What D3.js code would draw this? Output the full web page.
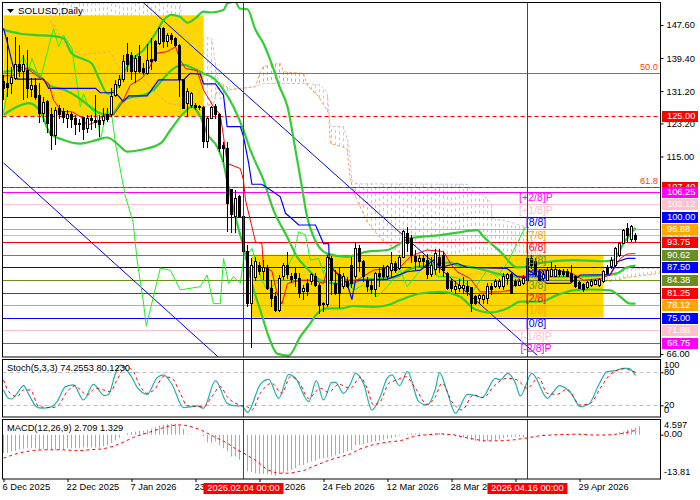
<!DOCTYPE html>
<html lang="en">
<head>
<meta charset="UTF-8">
<title>SOLUSD,Daily</title>
<script src="https://d3js.org/d3.v7.min.js"></script>
<style>
body { margin: 0; background: #fff; }
text { font-family: "Liberation Sans", Arial, sans-serif; font-size: 9.3px; fill: #000; }
.axis path { display: none; }
.axis line { stroke: #000; }
</style>
</head>
<body>
<svg width="700" height="500"></svg>
<script>
// candles, one per day, 6 Dec 2025 onward
var opens = [133.5,133.1,133.0,134.4,137.7,136.0,136.4,131.7,132.7,130.0,125.7,128.6,125.3,120.3,126.9,126.1,124.4,125.3,124.4,123.2,124.7,122.0,124.4,123.9,123.9,123.9,125.3,125.3,130.2,132.7,134.0,140.2,140.0,136.0,139.7,136.8,135.6,139.0,143.5,143.0,146.8,143.5,145.1,144.3,142.6,134.0,128.2,127.7,127.7,127.5,127.2,118.7,124.4,127.3,125.3,117.6,117.0,106.7,100.0,105.0,100.0,91.4,78.5,85.0,88.0,86.4,87.2,82.3,80.2,76.9,85.2,88.0,85.2,86.0,84.7,81.4,83.5,83.9,85.2,83.1,78.6,78.4,89.7,83.5,85.6,82.7,83.9,88.0,85.2,92.2,88.9,84.3,83.1,81.9,86.0,87.2,85.2,86.8,88.5,87.2,89.9,95.9,94.7,90.3,88.9,89.7,89.3,85.6,87.0,90.0,90.5,86.0,83.9,82.0,82.3,82.2,82.7,82.5,80.2,79.8,79.5,79.8,82.8,82.8,82.7,82.8,84.7,85.6,83.9,83.1,83.5,84.3,89.7,88.9,86.4,84.7,84.3,85.2,85.3,86.6,86.4,86.4,85.9,85.2,83.7,83.3,82.5,83.1,83.3,83.1,84.0,87.5,87.6,88.0,90.5,93.4,97.1,94.3,95.5];
var highs = [135.2,144.7,137.3,144.7,142.6,140.2,141.4,134.4,134.4,133.1,129.8,129.0,126.9,127.3,127.7,126.9,126.5,126.1,125.3,124.4,124.9,125.3,125.3,130.2,125.3,126.9,126.9,131.9,134.0,135.2,140.2,143.2,141.0,140.2,142.6,138.1,143.0,144.3,144.0,147.2,147.2,145.5,145.5,144.7,143.0,134.2,131.9,131.1,128.2,127.7,127.5,124.9,127.5,128.0,125.7,118.7,118.7,107.0,106.7,105.4,100.5,93.0,89.7,90.0,88.9,89.3,88.0,84.3,81.4,85.6,88.5,91.4,86.0,87.5,86.0,83.1,84.5,86.0,86.0,83.7,79.0,90.5,90.3,86.8,87.6,86.0,85.0,90.1,93.8,93.0,89.3,85.2,84.3,86.4,87.6,88.0,88.0,91.4,89.0,90.5,96.7,97.5,95.5,91.8,90.5,90.5,90.9,90.0,92.0,92.0,91.4,86.4,84.5,84.0,84.5,85.0,84.0,82.7,80.6,81.0,81.0,83.5,83.5,84.7,84.7,86.0,86.0,86.0,84.5,84.7,85.5,90.5,90.5,89.7,87.0,86.5,87.5,88.9,88.0,87.2,87.0,87.0,88.0,85.6,84.0,83.5,84.0,84.5,84.7,84.8,86.8,88.0,90.0,92.6,93.8,97.1,98.4,97.9,95.9];
var lows = [129.0,129.8,130.6,134.0,134.8,129.0,129.4,129.8,129.0,123.2,123.6,120.7,116.6,117.8,124.4,123.2,122.0,122.0,120.3,121.1,119.2,120.7,121.5,122.0,119.9,122.8,123.6,124.9,129.8,131.9,133.5,136.0,134.0,133.1,135.6,135.2,135.2,136.4,138.5,142.6,141.8,142.2,143.0,142.2,129.8,126.9,124.7,126.9,126.5,126.5,117.0,117.0,124.2,124.4,116.2,113.7,96.3,96.0,95.9,100.0,91.0,77.7,67.4,84.0,85.6,84.3,81.9,77.7,76.5,76.5,84.3,84.7,83.5,82.7,80.0,79.4,80.5,83.1,82.7,75.9,76.5,77.7,80.6,80.6,77.3,82.0,82.3,82.3,84.7,86.4,83.9,81.4,81.0,80.2,82.7,84.5,84.5,85.2,86.0,86.8,89.7,91.4,88.5,86.8,87.6,87.5,84.7,85.2,85.5,86.0,85.0,81.9,81.5,81.0,81.5,81.0,80.5,76.5,78.1,78.5,78.5,78.4,80.6,82.3,82.0,81.9,83.0,81.0,82.5,82.8,83.0,84.3,87.0,85.2,84.0,84.3,84.0,85.0,85.0,85.2,85.2,85.0,83.5,82.3,82.0,81.5,82.0,82.7,83.0,82.7,83.7,85.5,87.0,87.6,90.0,93.4,93.8,93.8,93.8];
var closes = [131.9,132.1,134.6,137.7,136.0,137.7,131.9,132.7,129.6,125.7,128.4,123.2,120.3,126.5,125.3,124.7,125.3,124.2,123.0,122.8,121.7,124.4,123.9,123.4,123.0,124.9,124.2,129.8,132.9,134.1,138.5,137.7,136.0,139.3,136.0,135.8,138.7,138.5,138.9,146.8,143.5,145.1,143.9,142.6,134.0,126.9,131.1,130.6,127.2,127.2,118.7,124.4,127.2,125.3,117.0,117.0,103.4,100.5,104.6,100.0,91.4,78.5,88.0,89.0,86.4,87.5,82.3,79.8,76.9,84.7,88.0,85.6,84.6,84.7,81.0,82.3,81.4,85.6,83.1,78.1,78.4,89.9,84.3,81.0,81.0,85.2,82.7,83.5,92.2,88.9,85.2,82.7,81.9,86.0,85.2,85.2,87.6,88.5,86.8,89.9,96.3,93.4,90.5,88.9,89.7,88.9,85.6,88.0,91.0,88.0,86.8,82.3,82.3,82.8,83.0,83.1,81.4,78.5,78.5,80.6,80.6,82.8,81.9,83.9,83.9,85.2,85.6,81.0,83.1,83.9,84.7,89.7,88.0,85.6,84.3,85.6,86.8,87.0,87.0,85.6,85.6,85.3,83.9,82.7,82.3,82.0,83.7,84.1,84.3,84.5,86.4,86.0,89.3,92.2,93.4,96.7,95.5,97.5,94.4];

// indicator readings as [bar, value]
var bbUpper = [[0,146.4],[4,145.5],[8,145.1],[12,144.9],[15,144.3],[17,140.6],[20,139.1],[22,138.1],[24,134],[26,130.6],[28,131.5],[30,135.6],[32,138.9],[35,141.4],[38,145.5],[40,148.8],[42,150.1],[44,149.7],[46,148.2],[48,149.3],[50,150.9],[52,150.7],[55,151.3],[56,153],[58,153.4],[59,151.7],[61,151.5],[63,146.4],[65,143],[67,138.1],[69,132.3],[71,127.3],[73,116.6],[74.6,107.5],[75.9,100],[77.5,95.1],[80.9,90.9],[85.9,90.1],[90.9,91.4],[95.9,91.8],[101.7,94.7],[109.2,95.5],[113.4,96.1],[118.4,96.7],[120,95.1],[124.2,91.4],[128.4,87.5],[130.9,87.6],[134.2,88.6],[142.5,89.3],[150,89],[152.5,89.3],[155,93.4],[158,97.3]];
var bbMiddle = [[0,136],[3.4,136.4],[6.3,136.8],[9.2,134.8],[11.7,132.5],[15,131.6],[18.4,129.8],[21.7,127.3],[24.2,125.7],[26.7,125.3],[30,129],[32.5,129.8],[35,130.2],[37.5,131.5],[40,134.4],[42.5,136.8],[45,137.7],[47.5,136.8],[50,135.6],[52.5,134.4],[55,131.5],[57.5,127.3],[60,121.5],[61.7,116.6],[65,109.1],[67.5,101.7],[70.9,95.1],[73.4,90.1],[75.9,87.2],[79.2,84.3],[82.5,83.5],[85.9,83.1],[89.2,84.3],[93.4,84.7],[98.4,85.2],[100.9,86.8],[105.9,88],[111.7,88.7],[113.4,88],[117.5,87.5],[121.7,86.4],[125,85.6],[129.2,85.2],[133.4,85.2],[138.4,85.2],[142.5,85.2],[146.7,85.3],[150.9,85.6],[153.4,86],[155.9,87.5],[158,87.9]];
var bbLower = [[0,125.3],[3.4,127.3],[6.3,128.2],[9.2,126.1],[11.7,120.7],[15,119.1],[19.2,118.2],[23.4,119.1],[25.9,119.7],[28.4,118.2],[30.9,116.2],[34.2,116.6],[39.2,118.2],[41.7,121.5],[45,125.7],[47.1,127.3],[49.2,124.9],[50.9,120.7],[53.4,117.4],[55,113.3],[55.9,109.1],[58.4,98.4],[60,92.6],[62.1,83.5],[64.2,76.9],[66.3,70.3],[68.4,66.1],[71.3,65.6],[74.2,70.3],[76.7,73.6],[78.4,76],[80.9,77.3],[84.2,77.3],[87.5,77.9],[92.5,77.7],[95.9,78.1],[99.2,79.4],[104.2,81],[109.2,81.4],[114.2,80.2],[117.5,77.3],[121.7,76.3],[125.9,77.3],[129.2,79],[134.2,79],[138.4,80.6],[142.5,81.8],[146.7,82],[151.7,81.8],[154.2,80.2],[156.7,78.5],[158,78.5]];
var redLine = [[0,135],[2.5,135],[3.4,137.3],[5.9,136.8],[9.2,134.4],[11.3,133.1],[12.5,129],[14.6,126.1],[17.1,126.1],[19.2,124.9],[20.9,122.8],[23.4,123.6],[25,125.3],[27.5,125.3],[29.6,128.2],[31.7,132.7],[34.6,134.4],[35.9,136],[38.4,140.6],[40.9,141],[43,142.2],[44.2,138.9],[45.5,136.8],[48.4,136.3],[50,131.5],[52.5,127.3],[54.2,125.3],[55,119.9],[55.9,113.3],[59.2,112],[60,109.1],[60.5,104.2],[63,93.8],[64.6,93.4],[65,87.5],[67.1,86.6],[68.4,81],[69.6,78.4],[71,83.5],[74.2,84.3],[77.5,84.3],[80,83.5],[81.3,88.5],[82.5,86.8],[85.9,84.3],[88.4,84.3],[92.5,86.8],[95.9,87.2],[98.4,86.8],[101.7,90.1],[103.4,90.9],[105.9,91.8],[110,91.4],[111.7,88.5],[113.4,86.4],[116.7,84.7],[119.2,81.4],[124.2,81.4],[126.7,81.8],[129.2,85.2],[131.3,85.2],[134.2,86.8],[138.4,86.8],[142.1,86],[145,84.3],[149.2,84.7],[151.7,85.6],[154.2,89.7],[155.9,90.8],[158,90.9]];
var blueLine = [[0,146.8],[0.9,143.5],[2.1,138.5],[3.4,134.2],[10,134.2],[11.3,131.9],[23,131.9],[24.2,130.8],[28,130.8],[30,128.6],[31.3,130],[35.9,130],[38.8,134],[45,134],[46.7,135.6],[49.2,135.4],[50,133],[53,133],[55,130.2],[55.9,122.4],[59.2,122.4],[60,119.9],[61.3,113.3],[62.1,108.1],[64.6,108.1],[67.5,106.2],[69.2,105],[70.5,100.9],[71.7,99.9],[73.8,98],[78,98],[80,93.4],[81.3,93.4],[81.4,90.1],[82.5,86.8],[85.9,83.5],[87.1,79.5],[88,84.3],[90.9,84.3],[95.9,84.5],[100.9,86.4],[104.2,86.8],[107.5,89.3],[109.2,87.5],[113.4,88.5],[115.9,87.5],[125.9,87.2],[128.4,85.2],[130.9,85],[131.3,86.8],[135.9,83.5],[141.7,83.5],[144.2,85.6],[151.7,85.7],[153.4,88.9],[155.9,89.7],[158,89.7]];
var limeLine = [[0,125.7],[1,131.5],[2.1,136],[3.8,137.7],[5,139.7],[6.3,136.4],[7.1,139.3],[9.2,134],[12.5,146.8],[13.8,142.2],[15,145.1],[17.1,141.8],[19.2,127.3],[20,130.6],[21.3,127.3],[23.4,125.3],[24.2,119.1],[25.9,126.5],[27.1,124.9],[28,118.2],[29.7,109.1],[30.4,105.4],[32.4,98.7],[33.4,89.3],[34.9,79.4],[35.7,72.9],[39.2,87.3],[41.7,86.8],[44.2,81.9],[49.2,82.7],[50.9,85.6],[52.5,78.5],[54.2,78.5],[55,89.7],[56.3,83.5],[57.5,85.2],[59.2,83.5],[60,89.3],[62.1,92.2],[64.6,84.3],[65.9,81.9],[69.2,84.3],[72.5,90.5],[73.8,96.3],[75.5,95.5],[76.7,89.3],[78.8,89.7],[80,86],[81.3,89.7],[83.4,86],[85.9,84.3],[87.5,81.8],[90,83.1],[93.4,80.2],[95.9,82.7],[99.2,86.8],[100.9,82.7],[104.2,86.8],[106.7,89.3],[108.4,85.2],[111.7,85.2],[114.2,84.7],[117.5,81.8],[120.9,86.8],[123.4,85.2],[125.9,88.5],[128.4,93.4],[130.4,97.5]];
var spanA = [[11.7,148.8],[15.9,142.2],[19.2,140.2],[26.7,141],[29.2,136.4],[32.5,136.4],[38.4,130.6],[40.9,128.2],[45.9,127.3],[50,127.3],[52.5,128.2],[54,133.5],[56.7,131.6],[63,132.3],[64.2,136],[65,137.3],[69.2,138.1],[70,136],[75,135.6],[75.9,132.7],[78.8,129.8],[81.3,125.7],[81.7,118.2],[85.9,117],[86.7,109.1],[88,105],[90.9,98.8],[94.6,94.3],[99.2,91],[103.4,89.3],[107.5,86],[111.7,84.7],[118,86],[125,85.5],[131,85],[135,84.5],[142,84.3],[152,84],[156,85],[164,86]];
var spanB = [[11.7,149.3],[13.8,153],[44.2,153],[45,144.7],[52.1,144.3],[53,138.1],[54.2,129],[56.7,131.6],[63,132.3],[65,133.1],[75.9,133.1],[79.2,132.7],[80.9,131.1],[81.7,122.4],[85,122.4],[86.3,118.2],[87.1,109.1],[88.4,108.2],[116,108.1],[116.7,106.7],[120,105.4],[122,103.3],[122.1,99.6],[125,99.2],[130.9,97.5],[133,92],[135,90],[140,89],[150,87.2],[164,87.2]];
var stochMain = [[0,47.9],[1.3,32.7],[2.1,31.5],[3.4,41.8],[5,55.8],[6.3,40],[8.2,17.6],[9.6,14.6],[12.1,17.6],[13.4,26.7],[15.5,53.9],[17.5,57],[20,29.7],[22.5,58.2],[25.2,37.6],[26.3,40],[28,78.2],[29.2,93.3],[31.7,75.2],[33.5,52.1],[35.9,40],[38.4,70.3],[40,75.2],[42.1,58.2],[45,15.8],[48.4,18.8],[50,14.6],[53,64.8],[55.9,23.6],[57.5,19.4],[59.6,18.8],[61,7.3],[64.2,58.2],[66.3,67.3],[68.8,32.7],[71.3,76.4],[73,69.1],[76.3,26.7],[78.2,64.8],[80,29.7],[82.1,61.8],[83,61.8],[85,41.8],[86.7,58.2],[88,78.2],[90,60],[92.1,11.5],[94.2,35.8],[95.9,69.1],[97.1,75.2],[99,55.8],[101,81.2],[103.8,26.7],[105.9,20.6],[108,50.9],[109,79.4],[110.9,44.9],[113,5.5],[116,40],[118,37.6],[119.6,33.9],[123,69.1],[124.2,66.1],[126,78.2],[128,60],[129.2,37],[132.1,78.2],[135.5,35.8],[136,32.7],[137.5,44.9],[139,55.8],[141.9,41.8],[144.2,17.6],[146.3,21.8],[148.8,57],[150.9,81.2],[153,83],[155,87.3],[156.3,87.3],[158,74.3]];
var stochSignal = [[0,66],[1.3,44.9],[3.4,35.8],[5,47.9],[6.7,47.9],[8.8,17.6],[12.1,15.8],[13.8,20.6],[15.9,44.9],[18,55.8],[19.2,47.9],[20.9,38.8],[23,50.9],[25,47.9],[26.7,44.9],[28.4,66.1],[30.5,90.3],[32.5,81.2],[33.8,60],[35.9,41.8],[38,50.9],[40,72.1],[42.1,69.1],[44.2,41.8],[45.9,19.4],[50,17.6],[52.1,35.8],[54.2,53.9],[55.9,35.8],[59.6,19.4],[60.9,17.6],[62.1,11.5],[64.2,41.8],[67.1,60],[69.6,41.8],[71.7,72.1],[73.8,63],[76.3,32.7],[79.2,50.9],[81.3,43.6],[83.8,58.2],[86.7,50.9],[89.2,70.9],[90.9,50.9],[92.5,20.6],[94.2,26.7],[96.3,60],[98.4,66.1],[100.5,72.1],[103,50.9],[105.9,21.8],[108,35.8],[109.6,60],[112.1,26.7],[114.6,11.5],[117.5,38.8],[120,33.9],[122.5,53.9],[125.9,69.1],[128.4,66.1],[130.9,50.9],[133.8,70.3],[135.9,41.8],[138.4,40],[140.9,49.1],[144.2,20.6],[146.7,23.6],[149.2,50.9],[151.7,76.4],[155,86.1],[158,80.1]];
var macdHist = [-5.7,-5.7,-5.2,-5.0,-4.5,-4.4,-4.0,-4.2,-4.2,-4.7,-4.4,-4.7,-4.7,-4.7,-4.7,-4.7,-4.2,-4.2,-4.2,-4.2,-4.0,-4.0,-4.0,-4.0,-4.0,-3.6,-3.3,-2.6,-1.6,-1.0,0.0,0.5,0.8,1.0,1.2,1.2,1.6,1.9,2.3,2.9,3.1,3.3,3.4,3.4,2.9,1.9,0.2,-0.1,-0.1,-0.05,-0.5,-2.4,-2.6,-2.1,-3.3,-4.2,-5.2,-6.8,-6.8,-7.8,-10.4,-11.4,-11.6,-12.0,-12.2,-12.2,-12.3,-12.5,-12.7,-12.2,-12.0,-11.4,-10.9,-10.4,-9.6,-9.4,-8.8,-8.3,-8.1,-7.5,-7.3,-7.1,-6.8,-6.4,-6.0,-5.7,-5.2,-4.7,-3.3,-3.1,-2.9,-2.6,-2.3,-2.1,-1.9,-1.6,-1.2,-1.0,-0.7,-0.3,-0.05,0.3,0.4,0.4,0.5,0.2,0.2,0.4,0.4,0.6,0.2,0.2,-0.05,-0.5,-0.5,-0.8,-1.0,-1.6,-1.9,-2.1,-2.1,-1.9,-1.7,-1.6,-1.4,-1.0,-0.8,-0.7,-0.6,-0.6,-0.8,-0.5,-0.1,-0.1,-0.05,0.2,0.1,0.1,-0.05,-0.05,0.2,0.2,0.2,0.2,0.2,0.2,0.1,0.0,0.0,0.0,0.0,0.0,0.1,0.2,0.8,1.0,1.6,1.9,2.1,2.7];
var macdSignal = [[0,-7.3],[2.5,-6.2],[5,-5.4],[7.5,-4.9],[10,-4.7],[15,-4.7],[18.4,-5],[21.7,-4.7],[25,-4.4],[27.5,-3.6],[30,-2.3],[32.5,-0.8],[35,0.2],[37.5,1.2],[40.9,2.6],[43.4,3.1],[45.9,2.9],[49.2,1.6],[52.5,-0.5],[55.9,-2.6],[58.4,-4.7],[60,-5.7],[63.4,-8.3],[65.9,-10.9],[68.4,-12],[71.7,-12],[75,-11.2],[78.4,-9.4],[81.7,-7.8],[86.7,-6],[89.2,-4.4],[92.5,-3.1],[95.9,-2.3],[99.2,-1.9],[102.5,-0.5],[105.9,0],[109.2,0.3],[112.5,0],[115.9,-1],[120,-1.9],[124.2,-1.9],[127.5,-1.6],[130.9,-1],[134.2,-0.3],[138.4,0],[143.4,0.2],[147.5,-0.1],[150.9,-0.1],[154.2,0.3],[158,1.33]];

var trendLines = [[[35,153.1],[133.4,65.7]],[[0,113.4],[53.75,65.2]]];
var yellowBoxes = [[0,50,150,125],[62,150,90.62,75]];

var murreyLevels = [106.25,103.12,100,96.88,93.75,90.62,87.5,84.38,81.25,78.12,75,71.88,68.75];
var murreyColors = ["#ff00ff","#ffc0cb","#0000ff","#ffa500","#ff0000","#6b8e23","#0000ff","#6b8e23","#ff0000","#ffa500","#0000ff","#ffc0cb","#ff00ff"];
var murreyNames = ["[+2/8]P","[+1/8]P","[8/8]","[7/8]","[6/8]","[5/8]","[4/8]","[3/8]","[2/8]","[1/8]","[0/8]","[-1/8]P","[-2/8]P"];
var fibLevels = [135.6,107.4];
var fibNames = ["50.0","61.8"];
var priceTicks = [147.6,139.4,131.2,123.2,115,66];
var dateBars = [0,16,32,48,64,80,96,112,128,144];
var dateNames = ["6 Dec 2025","22 Dec 2025","7 Jan 2026","23 Jan 2026","8 Feb 2026","24 Feb 2026","12 Mar 2026","28 Mar 2026","13 Apr 2026","29 Apr 2026"];
var crossBars = [60,131];
var crossNames = ["2026.02.04 00:00","2026.04.16 00:00"];

var left = 2.5, right = 660.5;
var svg = d3.select("svg");
var x = d3.scaleLinear().domain([0,158]).range([3.5,635.5]);
var y = d3.scaleLinear().domain([147.6,66]).range([25,354]);
var yStoch = d3.scaleLinear().domain([100,0]).range([361.3,416.3]);
var yMacd = d3.scaleLinear().domain([4.597,-13.81]).range([420,479]);

var defs = svg.append("defs");
function clip(id, top, bottom) {
  defs.append("clipPath").attr("id", id).append("rect")
    .attr("x", left).attr("y", top).attr("width", right - left).attr("height", bottom - top);
  return svg.append("g").attr("clip-path", "url(#" + id + ")");
}
var main = clip("cMain", 2.5, 357);
var stoch = clip("cStoch", 359.5, 417);
var macd = clip("cMacd", 419.5, 479);

function path(g, data, scale, color, width, dash, curve) {
  return g.append("path").datum(data)
    .attr("fill", "none").attr("stroke", color).attr("stroke-width", width)
    .attr("stroke-dasharray", dash || null)
    .attr("d", d3.line().curve(curve || d3.curveLinear)
      .x(function(d) { return x(d[0]); }).y(function(d) { return scale(d[1]); }));
}

// yellow time boxes
main.selectAll(".box").data(yellowBoxes).enter().append("rect")
  .attr("x", function(d) { return x(d[0]); })
  .attr("width", function(d) { return x(d[1]) - x(d[0]); })
  .attr("y", function(d) { return y(d[2]); })
  .attr("height", function(d) { return y(d[3]) - y(d[2]); })
  .attr("fill", "#ffd700");

// cloud hatch, one dotted column a bar
var readA = d3.scaleLinear().domain(spanA.map(function(d) { return d[0]; })).range(spanA.map(function(d) { return d[1]; }));
var readB = d3.scaleLinear().domain(spanB.map(function(d) { return d[0]; })).range(spanB.map(function(d) { return d[1]; }));
main.selectAll(".cloud").data(d3.range(12,165)).enter().append("line")
  .attr("x1", function(d) { return x(d); }).attr("x2", function(d) { return x(d); })
  .attr("y1", function(d) { return y(readA(d)); }).attr("y2", function(d) { return y(readB(d)); })
  .attr("stroke", function(d) { return readA(d) > readB(d) ? "#f4a460" : "#d8bfd8"; })
  .attr("stroke-dasharray", "3,3");
path(main, spanA, y, "#f4a460", 1, "3,2");
path(main, spanB, y, "#d8bfd8", 1, "3,2");

// horizontal levels
main.selectAll(".mm").data(murreyLevels).enter().append("line")
  .attr("x1", left).attr("x2", right)
  .attr("y1", function(d) { return Math.round(y(d)) + 0.5; }).attr("y2", function(d) { return Math.round(y(d)) + 0.5; })
  .attr("stroke", function(d, i) { return murreyColors[i]; });
main.append("line").attr("x1", left).attr("x2", right).attr("y1", Math.round(y(95.5)) + 0.5).attr("y2", Math.round(y(95.5)) + 0.5).attr("stroke", "#c0c0c0");
main.selectAll(".fib").data(fibLevels).enter().append("line")
  .attr("x1", left).attr("x2", right)
  .attr("y1", function(d) { return Math.round(y(d)) + 0.5; }).attr("y2", function(d) { return Math.round(y(d)) + 0.5; })
  .attr("stroke", "#ff4500");
[125,107.4].forEach(function(v) {
  main.append("line").attr("x1", left).attr("x2", right).attr("y1", Math.round(y(v)) + 0.5).attr("y2", Math.round(y(v)) + 0.5)
    .attr("stroke", "#ff0000").attr("stroke-dasharray", "4,3");
});

// blue trend lines
trendLines.forEach(function(t) { path(main, t, y, "#0000ff", 1); });

// indicators under the candles
path(main, limeLine, y, "#1ff01f", 1);
path(main, bbUpper, y, "#32cd32", 2.2, null, d3.curveMonotoneX);
path(main, bbMiddle, y, "#32cd32", 2.2, null, d3.curveMonotoneX);
path(main, bbLower, y, "#32cd32", 2.2, null, d3.curveMonotoneX);
path(main, blueLine, y, "#0000ff", 1.2);
path(main, redLine, y, "#ff0000", 1);

// candles
var bars = d3.range(opens.length);
main.selectAll(".wick").data(bars).enter().append("line")
  .attr("x1", function(i) { return x(i); }).attr("x2", function(i) { return x(i); })
  .attr("y1", function(i) { return y(highs[i]); }).attr("y2", function(i) { return y(lows[i]); })
  .attr("stroke", "#000").attr("shape-rendering", "crispEdges");
main.selectAll(".body").data(bars).enter().append("rect")
  .attr("x", function(i) { return x(i) - 1; }).attr("width", 2)
  .attr("y", function(i) { return y(Math.max(opens[i], closes[i])); })
  .attr("height", function(i) { return Math.max(1, Math.abs(y(opens[i]) - y(closes[i]))); })
  .attr("fill", function(i) { return closes[i] > opens[i] ? "#fff" : "#000"; })
  .attr("stroke", "#000").attr("shape-rendering", "crispEdges");

// murrey and fibo names in main panel
svg.selectAll(".mmName").data(murreyNames).enter().append("text")
  .attr("x", 536).attr("y", function(d, i) { return y(murreyLevels[i]) + 6.5; })
  .attr("text-anchor", "middle").attr("dominant-baseline", "middle")
  .style("font-size", "10.6px").style("fill", function(d, i) { return murreyColors[i]; })
  .text(function(d) { return d; });
fibNames.forEach(function(n, i) {
  svg.append("text").attr("x", 658).attr("y", y(fibLevels[i]) - 5.5)
    .attr("text-anchor", "end").attr("dominant-baseline", "middle")
    .style("fill", "#ff4500").text(n);
});

// stoch panel
[80,20].forEach(function(v) {
  stoch.append("line").attr("x1", left).attr("x2", right).attr("y1", Math.round(yStoch(v)) + 0.5).attr("y2", Math.round(yStoch(v)) + 0.5)
    .attr("stroke", "#c0c0c0").attr("stroke-dasharray", "4,3");
});
path(stoch, stochMain, yStoch, "#20b2aa", 1.2, null, d3.curveMonotoneX);
path(stoch, stochSignal, yStoch, "#ff0000", 1, "3,3", d3.curveMonotoneX);

// macd panel
macd.selectAll(".hist").data(macdHist).enter().append("line")
  .attr("x1", function(d, i) { return x(i); }).attr("x2", function(d, i) { return x(i); })
  .attr("y1", yMacd(0)).attr("y2", function(d) { return yMacd(d); })
  .attr("stroke", "#5ccdbb");
path(macd, macdSignal, yMacd, "#ff0000", 1, "3,3");

// crosshairs
crossBars.forEach(function(b) {
  [[2.5,357],[359.5,417],[419.5,479]].forEach(function(s) {
    svg.append("line").attr("x1", x(b)).attr("x2", x(b)).attr("y1", s[0]).attr("y2", s[1]).attr("stroke", "#e60000");
  });
});

// frames
[[2.5,357],[359.5,417],[419.5,479]].forEach(function(s) {
  svg.append("rect").attr("x", left).attr("y", s[0]).attr("width", right - left).attr("height", s[1] - s[0])
    .attr("fill", "none").attr("stroke", "#000");
});

// price axis
var axisPrice = d3.axisRight(y).tickValues(priceTicks).tickSize(3).tickPadding(3)
  .tickFormat(d3.format(".2f"));
svg.append("g").attr("class", "axis").attr("transform", "translate(" + right + ",0)").call(axisPrice);
var axisStoch = d3.axisRight(yStoch).tickValues([80,20]).tickSize(3).tickFormat("");
svg.append("g").attr("class", "axis").attr("transform", "translate(" + right + ",0)").call(axisStoch);
[["100",366],["80",372.6],["20",405.3],["0",411]].forEach(function(t) {
  svg.append("text").attr("x", 664).attr("y", t[1]).attr("dominant-baseline", "middle").text(t[0]);
});
var axisMacd = d3.axisRight(yMacd).tickValues([0]).tickSize(3).tickFormat("");
svg.append("g").attr("class", "axis").attr("transform", "translate(" + right + ",0)").call(axisMacd);
[["4.597",426],["0.00",435],["-13.81",472.7]].forEach(function(t) {
  svg.append("text").attr("x", 664).attr("y", t[1]).attr("dominant-baseline", "middle").text(t[0]);
});

// price tags at the right edge
function tag(value, color) {
  var cy = Math.round(y(value)) + 0.5;
  svg.append("rect").attr("x", 662).attr("y", cy - 5.5).attr("width", 36).attr("height", 11).attr("fill", color);
  svg.append("text").attr("x", 667).attr("y", cy + 0.5).attr("dominant-baseline", "middle")
    .style("fill", "#fff").text(d3.format(".2f")(value));
}
tag(125, "#ff0000");
tag(107.4, "#ff0000");
tag(95.5, "#c0c0c0");
murreyLevels.forEach(function(v, i) { tag(v, murreyColors[i]); });

// date axis
var axisDate = d3.axisBottom(x).tickValues(dateBars).tickSize(3).tickFormat("");
svg.append("g").attr("class", "axis").attr("transform", "translate(0,479)").call(axisDate);
dateBars.forEach(function(b, i) {
  svg.append("text").attr("x", x(b) - 1).attr("y", 488).attr("dominant-baseline", "middle").text(dateNames[i]);
});
crossBars.forEach(function(b, i) {
  svg.append("rect").attr("x", x(b) - 40).attr("y", 483).attr("width", 80).attr("height", 11).attr("fill", "#ff0000");
  svg.append("text").attr("x", x(b)).attr("y", 488.5).attr("text-anchor", "middle").attr("dominant-baseline", "middle")
    .style("fill", "#fff").text(crossNames[i]);
});

// titles
svg.append("path").attr("d", "M7,9 L14,9 L10.5,13 Z").attr("fill", "#000");
svg.append("text").attr("x", 18).attr("y", 11).attr("dominant-baseline", "middle").style("font-size", "9.8px").text("SOLUSD,Daily");
svg.append("text").attr("x", 7).attr("y", 369).attr("dominant-baseline", "middle").text("Stoch(5,3,3) 74.2553 80.1230");
svg.append("text").attr("x", 7).attr("y", 429).attr("dominant-baseline", "middle").text("MACD(12,26,9) 2.709 1.329");
</script>
</body>
</html>
